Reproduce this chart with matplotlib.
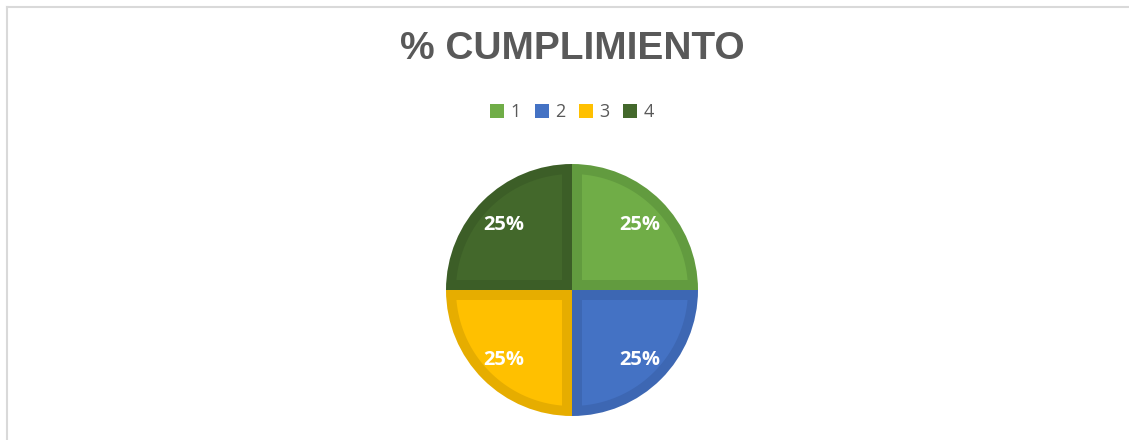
import numpy as np
import matplotlib
matplotlib.use("Agg")
import matplotlib.pyplot as plt
from matplotlib.patches import Patch, Polygon
from matplotlib.lines import Line2D

categories = ["1", "2", "3", "4"]
values = [25, 25, 25, 25]
face_colors = ["#70AD47", "#4472C4", "#FFC000", "#43682B"]
band_colors = ["#629B3F", "#3D67B3", "#E6AD00", "#3C5E27"]
title = "% CUMPLIMIENTO"

W, H, DPI = 1129, 440, 100
fig = plt.figure(figsize=(W / DPI, H / DPI), dpi=DPI)
fig.patch.set_facecolor("white")

# chart frame (top and left edges visible)
fig.add_artist(Line2D([7 / W, 1.0], [1 - 7 / H, 1 - 7 / H], transform=fig.transFigure,
                      color="#d9d9d9", lw=1.5))
fig.add_artist(Line2D([7 / W, 7 / W], [0, 1 - 7 / H], transform=fig.transFigure,
                      color="#d9d9d9", lw=1.5))

cx, cy, R = 572, 290, 126
lim = 1.03
half = R * lim
ax = fig.add_axes([(cx - half) / W, (H - cy - half) / H, 2 * half / W, 2 * half / H])

wedges, texts, autotexts = ax.pie(
    values, colors=band_colors, startangle=90, counterclock=False, radius=1,
    autopct=lambda p: f"{p:.0f}%", pctdistance=0.76,
    textprops=dict(color="white", fontsize=14.5, fontweight="bold", family="Open Sans"),
    wedgeprops=dict(linewidth=0),
)
ax.set_xlim(-lim, lim)
ax.set_ylim(-lim, lim)
ax.set_aspect("equal")
ax.axis("off")

# bevel: lighter inner region inset from every edge of the slice
d = 10 / R
for w, fc in zip(wedges, face_colors):
    a1, a2 = np.radians(w.theta1), np.radians(w.theta2)
    span = a2 - a1
    rr = w.r - d
    delta = np.arcsin(d / rr)
    mid = (a1 + a2) / 2
    s = d / np.sin(span / 2)
    vertex = np.array([[s * np.cos(mid), s * np.sin(mid)]])
    arc = np.linspace(a1 + delta, a2 - delta, 80)
    arc_pts = np.column_stack([rr * np.cos(arc), rr * np.sin(arc)])
    poly = Polygon(np.vstack([vertex, arc_pts]), closed=True, facecolor=fc,
                   edgecolor="none", zorder=w.get_zorder() + 0.1)
    ax.add_patch(poly)
for t in autotexts:
    t.set_zorder(5)
    t.set_va("center_baseline")
for t in texts:
    t.set_text("")

handles = [Patch(facecolor=c, edgecolor="none", label=l) for c, l in zip(face_colors, categories)]
fig.legend(handles=handles, loc="center", bbox_to_anchor=(cx / W, 1 - 112 / H), ncol=4,
           frameon=False, handlelength=0.78, handleheight=0.78, handletextpad=0.35,
           columnspacing=0.75, prop=dict(family="Open Sans", size=13), labelcolor="#595959")

fig.text(cx / W, 1 - 49 / H, title, ha="center", va="center", fontsize=28,
         fontweight="bold", color="#595959", family="Liberation Sans")

fig.savefig("out.png", dpi=DPI)
